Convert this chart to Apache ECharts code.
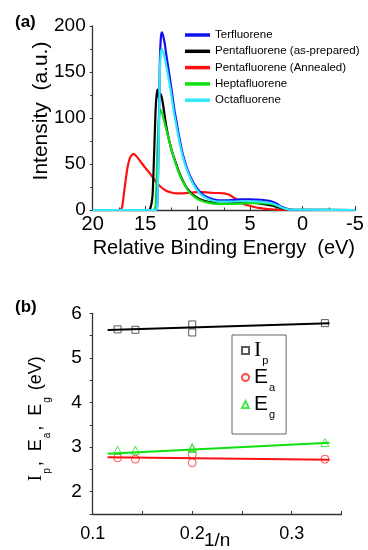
<!DOCTYPE html>
<html>
<head>
<meta charset="utf-8">
<script src="https://cdn.jsdelivr.net/npm/echarts@6/dist/echarts.min.js"></script>
<style>html,body{margin:0;padding:0;background:#fff;}#c{width:368px;height:550px;}</style>
</head>
<body>
<div id="c"></div>
<script>
// ---------- Panel (a) data ----------
const terX = [20, 14.0, 13.85, 13.7, 13.6, 13.5, 13.4, 13.3, 13.15, 13.0, 12.8, 12.6, 12.4, 12.2, 12.0, 11.7, 11.4, 11.0, 10.6, 10.2, 9.8, 9.4, 9.0, 8.5, 8.0, 7.0, 6.0, 5.0, 4.0, 3.0, 2.5, 2.0, 1.5, 1.0, -5];
const terY = [0, 0, 5, 80, 160, 188, 193, 190, 182, 170, 155, 140, 124, 108, 95, 76, 60, 45, 34, 26, 20, 16, 13.5, 11.5, 10.5, 10.5, 11.5, 11.5, 11, 9.5, 7, 3.6, 1.2, 0.3, 0];
const pentaX = [20, 14.7, 14.5, 14.3, 14.15, 14.0, 13.85, 13.7, 13.5, 13.3, 13.0, 12.7, 12.4, 12.1, 11.8, 11.5, 11.2, 10.9, 10.5, 10.0, 9.5, 9.0, 8.5, 8.0, 7.0, 6.0, 5.0, 4.0, 3.0, 2.5, 2.0, 1.5, 1.0, -5];
const pentaY = [0, 0, 2, 15, 60, 110, 131, 122, 126, 115, 92, 75, 62, 52, 42, 34, 27, 22, 17, 13, 10.5, 9, 8, 7, 7.5, 8, 8, 7, 5, 3.5, 2, 0.8, 0, 0];
const annX = [20, 17.4, 17.2, 17.0, 16.7, 16.4, 16.1, 15.8, 15.4, 15.0, 14.5, 14.0, 13.5, 13.0, 12.5, 12.0, 11.5, 11.0, 10.5, 10.0, 9.5, 9.0, 8.5, 8.0, 7.5, 7.0, 6.5, 6.0, 5.5, 5.0, 4.5, 4.0, 3.5, 3.0, 2.5, 2.0, -5];
const annY = [0, 0, 3, 20, 45, 58, 61, 58, 52, 46, 39, 31, 25, 21, 19, 18, 18, 18.5, 19, 19.5, 19.5, 19, 18.5, 18.5, 18, 16.5, 13, 9, 6, 4.5, 3, 2, 1.2, 0.6, 0.3, 0, 0];
const heptaX = [20, 14.2, 14.0, 13.85, 13.7, 13.55, 13.4, 13.2, 13.0, 12.7, 12.4, 12.1, 11.8, 11.5, 11.2, 10.9, 10.5, 10.0, 9.5, 9.0, 8.5, 8.0, 7.0, 6.0, 5.0, 4.0, 3.0, 2.5, 2.0, 1.5, 1.0, -5];
const heptaY = [0, 0, 5, 60, 100, 109, 106, 97, 88, 75, 62, 51, 41, 33, 27, 21, 16, 12, 9.5, 8, 7, 6.5, 6.5, 7, 7.5, 7.5, 6.5, 5, 3, 1.2, 0.3, 0];
const octaX = [20, 14.0, 13.85, 13.7, 13.6, 13.5, 13.4, 13.3, 13.15, 13.0, 12.8, 12.6, 12.4, 12.2, 12.0, 11.7, 11.4, 11.0, 10.6, 10.2, 9.8, 9.4, 9.0, 8.5, 8.0, 7.0, 6.0, 5.0, 4.0, 3.0, 2.5, 2.0, 1.5, 1.0, -5];
const octaY = [0, 0, 5, 75, 150, 172, 175, 172, 166, 158, 145, 132, 117, 102, 90, 72, 57, 43, 32, 24, 18, 14.5, 12, 10, 9, 9, 9.5, 9.5, 9, 7.5, 5.5, 2.8, 1.0, 0.3, 0];
const namesA = ['Terfluorene', 'Pentafluorene (as-prepared)', 'Pentafluorene (Annealed)', 'Heptafluorene', 'Octafluorene'];

// ---------- Panel (b) data ----------
const invN = [0.125, 0.1429, 0.2, 0.2, 0.3333];
const ipVals = [5.64, 5.63, 5.75, 5.57, 5.78];
const eaVals = [2.76, 2.73, 2.83, 2.65, 2.73];
const egVals = [2.93, 2.93, 2.99, 2.97, 3.10];
const fitX = [0.115, 0.338];
const ipFit = [5.625, 5.775];
const eaFit = [2.77, 2.715];
const egFit = [2.85, 3.10];
const namesB = ['Ip', 'Ea', 'Eg'];

const zip = (xs, ys) => xs.map((x, i) => [x, ys[i]]);
const FONT = 'Liberation Sans, Arial, sans-serif';
const SERIF = 'Liberation Serif, Times New Roman, serif';

const chart = echarts.init(document.getElementById('c'), null, {renderer: 'canvas'});

function lineSeries(name, xs, ys, color) {
  return {
    type: 'line', name: name, xAxisIndex: 0, yAxisIndex: 0,
    data: zip(xs, ys), symbol: 'none', smooth: 0.2,
    lineStyle: {color: color, width: 2.2}, itemStyle: {color: color},
    silent: true, animation: false
  };
}

const subRich = {
  m: {fontSize: 21, fontFamily: FONT, color: '#000', lineHeight: 22, verticalAlign: 'middle'},
  ms: {fontSize: 22, fontFamily: SERIF, color: '#000', lineHeight: 22, verticalAlign: 'middle'},
  s: {fontSize: 11, fontFamily: FONT, color: '#000', lineHeight: 11, verticalAlign: 'middle', padding: [20, 0, 0, 1]}
};
const nameRich = {
  m: {fontSize: 18, fontFamily: FONT, color: '#000', lineHeight: 20, verticalAlign: 'top'},
  ms: {fontSize: 19, fontFamily: SERIF, color: '#000', lineHeight: 20, verticalAlign: 'top'},
  s: {fontSize: 10, fontFamily: FONT, color: '#000', lineHeight: 26, verticalAlign: 'bottom', padding: [0, 2, 0, 1]}
};

const option = {
  backgroundColor: '#fff',
  animation: false,
  title: [
    {text: '(a)', left: 10, top: 9, textStyle: {fontSize: 17, fontWeight: 'bold', fontFamily: FONT, color: '#000'}},
    {text: '(b)', left: 10, top: 294, textStyle: {fontSize: 17, fontWeight: 'bold', fontFamily: FONT, color: '#000'}}
  ],
  grid: [
    {left: 92.7, right: 13, top: 26, height: 184, outerBoundsMode: 'none', containLabel: false},
    {left: 92.7, right: 26.5, top: 313.3, height: 200.7, outerBoundsMode: 'none', containLabel: false}
  ],
  legend: [
    {
      data: namesA, orient: 'vertical', left: 185, top: 28, padding: 0,
      icon: 'rect', itemWidth: 25, itemHeight: 3.5, itemGap: 2.3, itemTextGap: 0,
      textStyle: {fontSize: 11.5, fontFamily: FONT, color: '#000', lineHeight: 14},
      selectedMode: false
    },
    {
      data: namesB, orient: 'vertical', left: 232, top: 335,
      padding: [0, 11, 14, 9], borderColor: '#666', borderWidth: 1,
      itemWidth: 7, itemHeight: 7, itemGap: -4, itemTextGap: 18,
      selectedMode: false,
      formatter: n => (n === 'Ip' ? '{ms|I}' : '{m|' + n[0] + '}') + '{s|' + n[1] + '}',
      textStyle: {rich: subRich}
    }
  ],
  xAxis: [
    {
      gridIndex: 0, type: 'value', inverse: true, min: -5, max: 20, interval: 5,
      name: 'Relative Binding Energy  (eV)', nameLocation: 'middle', nameGap: 28, nameMoveOverlap: false,
      nameTextStyle: {fontSize: 20, fontFamily: FONT, color: '#000'},
      axisLine: {onZero: false, lineStyle: {color: '#333', width: 1.3}},
      axisTick: {inside: true, length: 4, lineStyle: {color: '#333'}},
      minorTick: {show: true, splitNumber: 2, length: 2.5, lineStyle: {color: '#333'}},
      axisLabel: {fontSize: 20, fontFamily: FONT, color: '#000', margin: 4},
      splitLine: {show: false}
    },
    {
      gridIndex: 1, type: 'value', min: 0.1, max: 0.35, interval: 0.05,
      name: '1/n', nameLocation: 'middle', nameGap: 17, nameMoveOverlap: false,
      nameTextStyle: {fontSize: 19, fontFamily: FONT, color: '#000'},
      axisLine: {onZero: false, lineStyle: {color: '#333', width: 1.3}},
      axisTick: {inside: true, length: 3, lineStyle: {color: '#333'}},
      axisLabel: {fontSize: 18, fontFamily: FONT, color: '#000', margin: 11,
        formatter: v => (Math.abs(v * 10 - Math.round(v * 10)) < 1e-6 ? (+v.toFixed(1)).toString() : '')},
      splitLine: {show: false}
    }
  ],
  yAxis: [
    {
      gridIndex: 0, type: 'value', min: 0, max: 200, interval: 50,
      name: 'Intensity  (a.u.)', nameLocation: 'middle', nameGap: 41, nameMoveOverlap: false,
      nameTextStyle: {fontSize: 21, fontFamily: FONT, color: '#000', padding: [0, 0, 0, 14]},
      axisLine: {show: true, onZero: false, lineStyle: {color: '#333', width: 1.3}},
      axisTick: {show: true, length: 3, lineStyle: {color: '#333'}},
      minorTick: {show: true, splitNumber: 2, length: 2.5, lineStyle: {color: '#333'}},
      axisLabel: {fontSize: 19, fontFamily: FONT, color: '#000', margin: 7},
      splitLine: {show: false}
    },
    {
      gridIndex: 1, type: 'value', min: 1.5, max: 6, interval: 0.5,
      name: '{ms|I}{s|p}{m|,  E}{s|a}{m|,  E}{s|g}{m| (eV)}', nameLocation: 'middle', nameGap: 40, nameMoveOverlap: false,
      nameTextStyle: {rich: nameRich, padding: [0, 10, 0, 0]},
      axisLine: {show: true, onZero: false, lineStyle: {color: '#333', width: 1.3}},
      axisTick: {show: true, length: 3, lineStyle: {color: '#333'}},
      axisLabel: {fontSize: 19, fontFamily: FONT, color: '#000', margin: 11,
        formatter: v => (Math.abs(v - Math.round(v)) < 1e-6 ? String(Math.round(v)) : '')},
      splitLine: {show: false}
    }
  ],
  series: [
    lineSeries(namesA[2], annX, annY, '#ff1010'),
    lineSeries(namesA[1], pentaX, pentaY, '#000000'),
    lineSeries(namesA[3], heptaX, heptaY, '#10e010'),
    lineSeries(namesA[0], terX, terY, '#1010f0'),
    lineSeries(namesA[4], octaX, octaY, '#30e8f8'),
    {type: 'line', xAxisIndex: 1, yAxisIndex: 1, data: zip(fitX, ipFit), symbol: 'none', lineStyle: {color: '#000', width: 2}, silent: true},
    {type: 'line', xAxisIndex: 1, yAxisIndex: 1, data: zip(fitX, eaFit), symbol: 'none', lineStyle: {color: '#ff1010', width: 2}, silent: true},
    {type: 'line', xAxisIndex: 1, yAxisIndex: 1, data: zip(fitX, egFit), symbol: 'none', lineStyle: {color: '#10e010', width: 2}, silent: true},
    {type: 'scatter', name: 'Ip', xAxisIndex: 1, yAxisIndex: 1, data: zip(invN, ipVals), symbol: 'rect', symbolSize: 7,
      itemStyle: {color: 'rgba(255,255,255,0)', borderColor: '#333', borderWidth: 1}, silent: true},
    {type: 'scatter', name: 'Ea', xAxisIndex: 1, yAxisIndex: 1, data: zip(invN, eaVals), symbol: 'circle', symbolSize: 8,
      itemStyle: {color: 'rgba(255,255,255,0)', borderColor: '#ff2020', borderWidth: 1}, silent: true},
    {type: 'scatter', name: 'Eg', xAxisIndex: 1, yAxisIndex: 1, data: zip(invN, egVals), symbol: 'triangle', symbolSize: 8,
      itemStyle: {color: 'rgba(255,255,255,0)', borderColor: '#20dd20', borderWidth: 1}, silent: true}
  ]
};
chart.setOption(option);
</script>
</body>
</html>
